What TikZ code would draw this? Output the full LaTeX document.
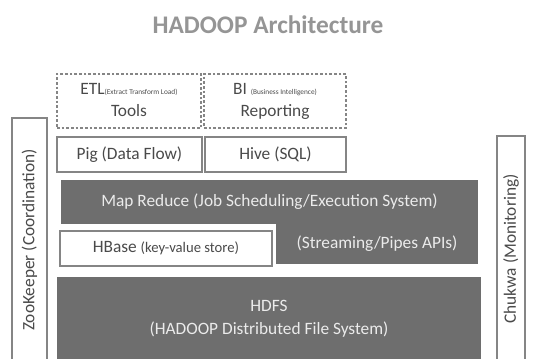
\documentclass[tikz,border=0pt]{standalone}
\usepackage{fontspec}
\setmainfont{Carlito}
\usetikzlibrary{positioning}

\definecolor{layergray}{HTML}{6E6E6E}
\definecolor{edgegray}{HTML}{858585}
\definecolor{inkgray}{HTML}{4A4A4A}
\definecolor{titlegray}{HTML}{959595}

\tikzset{
    layer/.style={inner sep=0pt, outer sep=0pt, align=center,
        font=\fontsize{13}{17}\selectfont},
    darklayer/.style={layer, fill=layergray, text=white!92!black},
    lightlayer/.style={layer, draw=edgegray, line width=1.1pt, fill=white, text=inkgray},
    toollayer/.style={layer, draw=edgegray, line width=1.2pt, dash pattern=on 2pt off 1.5pt, text=inkgray},
    sidelayer/.style={lightlayer, rotate=90},
}
\newcommand{\tinynote}[1]{{\fontsize{5.5}{6}\selectfont #1}}

\begin{document}
\begin{tikzpicture}[x=0.75pt,y=-0.75pt]
    \useasboundingbox (0,0) rectangle (533,358);
    \clip (0,0) rectangle (533,358);

    % Title
    \node [font=\fontsize{19}{22}\selectfont\bfseries, text=titlegray] (title) at (268,25) {HADOOP Architecture};

    % Tools on top (dashed)
    \node [toollayer, minimum width=108pt, minimum height=40.5pt] (etl) at (129,101)
        {\strut ETL\tinynote{(Extract Transform Load)}\\Tools\rule[-5pt]{0pt}{5pt}};
    \node [toollayer, minimum width=106.5pt, minimum height=40.5pt] (bi) at (275,101)
        {\strut BI \tinynote{(Business Intelligence)}\\Reporting\rule[-5pt]{0pt}{5pt}};

    % Languages
    \node [lightlayer, minimum width=108.75pt, minimum height=26.25pt] (pig) at (129.5,154.5) {Pig (Data Flow)};
    \node [lightlayer, minimum width=105.75pt, minimum height=26.25pt] (hive) at (275.5,154.5) {Hive (SQL)};

    % Processing layer
    \node [darklayer, minimum width=151.5pt, minimum height=30pt] (streaming) at (377,244) {(Streaming/Pipes APIs)};
    \node [darklayer, minimum width=312.75pt, minimum height=33pt] (mapred) at (269.5,202)
        {Map Reduce (Job Scheduling/Execution System)};
    \node [lightlayer, minimum width=159pt, minimum height=26.25pt] (hbase) at (166,248.5)
        {HBase {\fontsize{11}{13}\selectfont(key-value store)}};

    % Storage
    \node [darklayer, minimum width=318pt, minimum height=63pt] (hdfs) at (269,319)
        {HDFS\\(HADOOP Distributed File System)};

    % Side services
    \node [sidelayer, minimum width=183pt, minimum height=26.25pt] (zookeeper) at (29.5,240)
        {ZooKeeper (Coordination)};
    \node [sidelayer, minimum width=169.5pt, minimum height=21pt] (chukwa) at (511,249)
        {Chukwa (Monitoring)};
\end{tikzpicture}
\end{document}
